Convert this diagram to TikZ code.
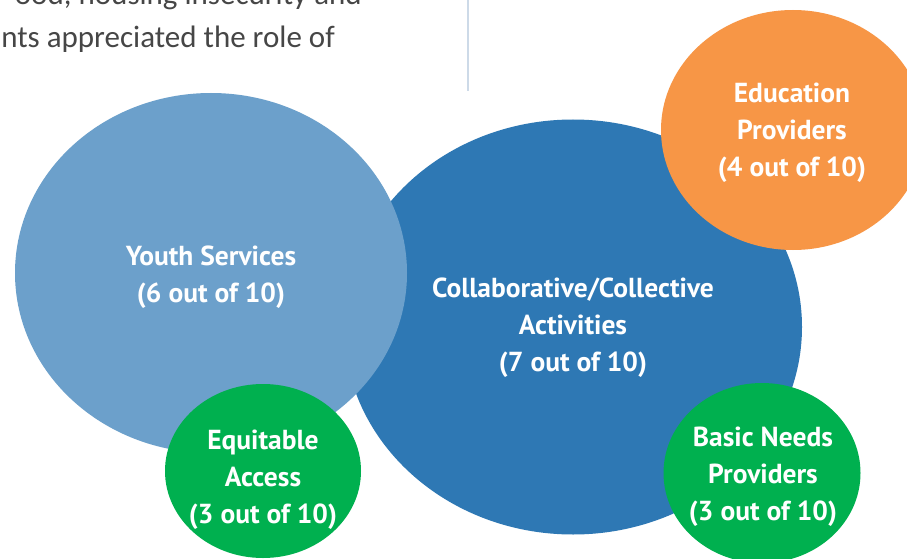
\documentclass[tikz,border=0pt]{standalone}
\usepackage{fontspec}
\setmainfont{PT Sans}
\newfontfamily\bodyfont{Carlito}
\usetikzlibrary{shapes.geometric}
\definecolor{lblue}{RGB}{108,160,203}
\definecolor{dblue}{RGB}{46,120,180}
\definecolor{orangec}{RGB}{247,150,70}
\definecolor{greenc}{RGB}{0,176,79}
\definecolor{graytext}{RGB}{70,70,70}
\definecolor{rulec}{RGB}{205,218,232}
\begin{document}
\begin{tikzpicture}[x=1pt,y=-1pt,
  blob/.style={ellipse, inner sep=0pt, draw=none},
  lbl/.style={text=white, font=\bfseries\fontsize{27.5}{37}\selectfont, align=center, anchor=base, inner sep=0pt},
  body/.style={text=graytext, font=\bodyfont\fontsize{31}{43}\selectfont, anchor=base east, inner sep=0pt}]
\useasboundingbox (0,0) rectangle (907,559);
\clip (0,0) rectangle (907,559);
\fill[white] (0,0) rectangle (907,559);

% top text and rule
\node[body] (t1) at (362,5) {ood, housing insecurity and};
\node[body] (t2) at (335,48) {nts appreciated the role of};
\coordinate (rtop) at (468,0);
\coordinate (rbot) at (468,91);
\draw[rulec, line width=1.5pt] (rtop) -- (rbot);

% circles
\node[blob, fill=dblue, minimum width=458pt, minimum height=415pt] (collab) at (573,327) {};
\node[blob, fill=lblue, minimum width=392pt, minimum height=360pt] (youth) at (211,273) {};
\node[blob, fill=orangec, minimum width=264pt, minimum height=240pt] (edu) at (793,130) {};
\node[blob, fill=greenc, minimum width=196pt, minimum height=174pt] (equit) at (263,471) {};
\node[blob, fill=greenc, minimum width=197pt, minimum height=180pt] (basic) at (762,473) {};

% labels (anchor = baseline of last line)
\node[lbl] (youthtxt) at (211,302) {Youth Services\\(6 out of 10)};
\node[lbl] (collabtxt) at (573,371) {Collaborative/Collective\\Activities\\(7 out of 10)};
\node[lbl] (edutxt) at (792,176) {Education\\Providers\\(4 out of 10)};
\node[lbl] (equittxt) at (263,523) {Equitable\\Access\\(3 out of 10)};
\node[lbl] (basictxt) at (763,520) {Basic Needs\\Providers\\(3 out of 10)};
\end{tikzpicture}
\end{document}
